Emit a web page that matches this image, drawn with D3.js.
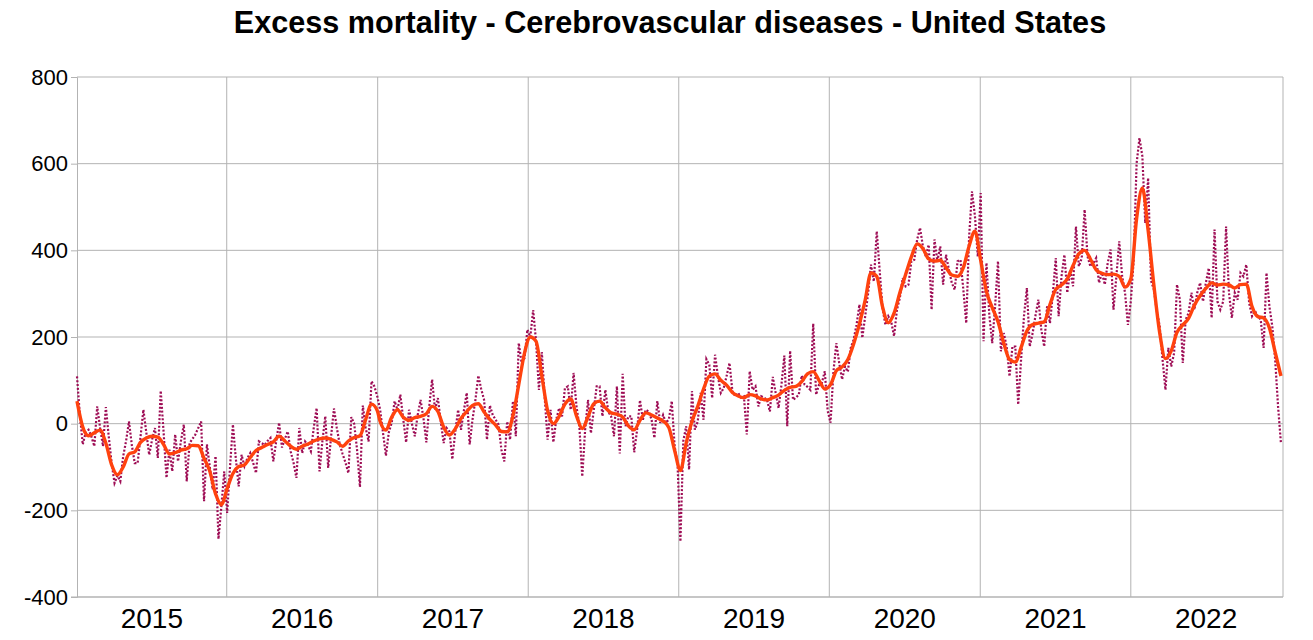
<!DOCTYPE html>
<html>
<head>
<meta charset="utf-8">
<script src="https://cdn.jsdelivr.net/npm/d3@7"></script>
<style>
  body { margin: 0; background: #fff; }
  text { font-family: "Liberation Sans", Arial, sans-serif; }
</style>
</head>
<body>
<svg id="chart" width="1313" height="640"></svg>
<script>
// weekly excess deaths, one array per year (week ending dates, from 2015-01-03)
const w2015 = [109, 20, -48, -20, -14, -30, -52, 40, -10, -52, 38, -30, -91, -137, -120, -133, -75, -40, 5, -50, -91, -91, -30, 32, -20, -72, -37, -10, -79, 76, -20, -125, -60, -110, -25, -87, -40, -2, -133, -45, -35, -25, -10, 5, -179, -48, -100, -152, -75, -266, -191, -110]
const w2016 = [-206, -100, -2, -80, -145, -72, -98, -80, -68, -90, -114, -41, -45, -49, -40, -33, -87, -40, 2, -55, -35, -18, -64, -90, -125, -10, -68, -41, -50, -64, -10, 36, -110, -40, 17, -102, -30, 35, -10, -48, -70, -90, -114, 15, 0, -60, -146, 42, -10, -41, 98, 86, 63]
const w2017 = [32, -22, -74, -20, 2, 52, 32, 67, 10, -43, 32, 0, -29, 20, 55, 13, -43, 40, 102, 32, 59, 5, -45, -10, -18, -82, -20, 32, -14, 30, 71, -48, 10, 55, 111, 80, 55, -37, 42, 20, 9, -2, -60, -87, 5, -37, 52, -29, 186, 140, 151, 217]
const w2018 = [200, 262, 190, 78, 165, 60, -37, 32, -43, 10, 36, 17, 82, 86, 32, 117, 40, -6, -122, -14, 55, -22, 32, 86, 86, 17, 78, 28, 17, -29, 86, -69, 115, -6, 17, 17, -66, -14, 54, 9, 32, 28, 10, -33, 52, 2, 20, 2, 10, 52, -52, -91]
const w2019 = [-272, -40, -6, -106, 75, -14, 5, 71, 9, 149, 136, 59, 159, 109, 71, 82, 110, 140, 75, 63, 71, 60, 63, -25, 121, 78, 86, 40, 63, 60, 55, 28, 108, 71, 36, 90, 157, -6, 168, 55, 60, 67, 111, 90, 85, 78, 231, 67, 90, 94, 121, 30]
const w2020 = [2, 120, 186, 140, 102, 132, 120, 175, 194, 228, 275, 198, 248, 300, 367, 328, 444, 355, 267, 228, 248, 236, 202, 263, 290, 336, 317, 321, 375, 378, 425, 452, 409, 386, 413, 263, 425, 375, 409, 321, 390, 355, 325, 309, 375, 378, 309, 232, 432, 536, 480, 386]
const w2021 = [532, 190, 371, 250, 186, 271, 375, 167, 209, 178, 109, 178, 178, 44, 148, 248, 313, 178, 209, 250, 286, 217, 178, 271, 232, 300, 382, 248, 340, 390, 302, 355, 317, 455, 363, 382, 494, 386, 363, 370, 382, 325, 348, 321, 371, 402, 263, 340, 421, 340, 302, 228]
const w2022 = [282, 378, 600, 659, 617, 463, 567, 330, 309, 260, 225, 148, 78, 175, 132, 163, 321, 286, 140, 240, 255, 302, 263, 302, 325, 282, 325, 359, 244, 448, 282, 263, 282, 455, 302, 244, 302, 286, 348, 340, 367, 278, 248, 260, 248, 240, 175, 348, 271, 225, 148, 40, -45]

// smoothed curve, read every second week of each year
const s2015 = [52, -8, -28, -21, -15, -45, -95, -118, -100, -70, -65, -43, -33, -29, -31, -48, -70, -67, -61, -58, -50, -51, -80, -110, -162, -187]
const s2016 = [-150, -115, -99, -95, -78, -62, -55, -48, -42, -29, -40, -52, -59, -52, -47, -40, -35, -33, -36, -42, -52, -40, -32, -28, 10, 45, 30]
const s2017 = [5, -15, 15, 32, 15, 8, 14, 17, 23, 40, 28, -8, -26, -12, 12, 28, 42, 46, 27, 10, -3, -18, -19, 18, 90, 163]
const s2018 = [200, 190, 110, 30, 0, 17, 45, 57, 18, -11, 16, 46, 52, 37, 25, 22, 15, -5, -14, 8, 25, 20, 13, 6, -9, -62]
const s2019 = [-108, -45, 5, 40, 80, 110, 115, 100, 89, 72, 64, 60, 67, 64, 57, 55, 60, 66, 77, 84, 86, 97, 115, 120, 100, 80]
const s2020 = [90, 122, 131, 148, 184, 230, 285, 348, 340, 270, 233, 255, 302, 344, 385, 415, 404, 380, 375, 377, 360, 343, 340, 360, 410, 444]
const s2021 = [377, 305, 268, 235, 186, 148, 142, 176, 214, 229, 232, 235, 275, 310, 320, 334, 365, 392, 400, 380, 355, 347, 344, 345, 340, 315]
const s2022 = [334, 473, 544, 446, 319, 210, 150, 168, 211, 228, 243, 273, 295, 312, 325, 320, 322, 320, 313, 321, 322, 270, 247, 244, 221, 165, 110]

const years = [2015, 2016, 2017, 2018, 2019, 2020, 2021, 2022]
const yTicks = [-400, -200, 0, 200, 400, 600, 800]
const title = 'Excess mortality - Cerebrovascular diseases - United States'

const weeklyByYear = [w2015, w2016, w2017, w2018, w2019, w2020, w2021, w2022]
const smoothByYear = [s2015, s2016, s2017, s2018, s2019, s2020, s2021, s2022]
const firstWeek = new Date(2015, 0, 3)
const axisEnd = new Date(2023, 0, 5)

// build points: dates step 7 days from first week
let weekly = [], smooth = [], offset = 0
weeklyByYear.forEach((arr, yi) => {
  arr.forEach((v, i) => {
    weekly.push({ date: d3.timeDay.offset(firstWeek, 7 * (offset + i)), v: v })
  })
  smoothByYear[yi].forEach((v, k) => {
    smooth.push({ date: d3.timeDay.offset(firstWeek, 7 * (offset + 2 * k)), v: v })
  })
  offset += arr.length
})

const plotL = 77, plotR = 1283, plotT = 77, plotB = 597
const svg = d3.select('#chart')

const x = d3.scaleTime().domain([firstWeek, axisEnd]).range([plotL, plotR])
const y = d3.scaleLinear().domain([-400, 800]).range([plotB, plotT])

// title
svg.append('text')
  .attr('x', 670).attr('y', 33)
  .attr('text-anchor', 'middle')
  .attr('font-size', 30.6).attr('font-weight', 'bold')
  .text(title)

// horizontal grid
svg.append('g')
  .selectAll('line')
  .data(yTicks)
  .join('line')
  .attr('x1', plotL).attr('x2', plotR)
  .attr('y1', d => y(d)).attr('y2', d => y(d))
  .attr('stroke', '#b3b3b3').attr('stroke-width', 1)

// vertical grid at year boundaries + right edge
const yearLines = years.slice(1).map(yr => x(new Date(yr, 0, 1))).concat([plotR])
svg.append('g')
  .selectAll('line')
  .data(yearLines)
  .join('line')
  .attr('x1', d => d).attr('x2', d => d)
  .attr('y1', plotT).attr('y2', plotB)
  .attr('stroke', '#b3b3b3').attr('stroke-width', 1)

// y axis
const yAxis = svg.append('g')
  .attr('transform', `translate(${plotL},0)`)
  .call(d3.axisLeft(y).tickValues(yTicks).tickSize(6).tickPadding(3).tickFormat(d3.format('d')))
yAxis.select('.domain').attr('stroke', '#b3b3b3')
yAxis.selectAll('.tick line').attr('stroke', '#b3b3b3')
yAxis.selectAll('.tick text')
  .attr('font-size', 22).attr('fill', '#000')
  .attr('font-family', '"Liberation Sans", Arial, sans-serif')
  .text(d => d < 0 ? '-' + Math.abs(d) : d)

// x axis baseline
svg.append('line')
  .attr('x1', plotL - 6).attr('x2', plotR)
  .attr('y1', plotB).attr('y2', plotB)
  .attr('stroke', '#b3b3b3')

// year labels centered in their band
svg.append('g')
  .selectAll('text')
  .data(years)
  .join('text')
  .attr('x', yr => {
    const a = Math.max(plotL, x(new Date(yr, 0, 1)))
    const b = Math.min(plotR, x(new Date(yr + 1, 0, 1)))
    return (a + b) / 2
  })
  .attr('y', 628)
  .attr('text-anchor', 'middle')
  .attr('font-size', 28)
  .text(yr => yr)

// weekly series, dotted
const line = d3.line().x(d => x(d.date)).y(d => y(d.v))
svg.append('path')
  .datum(weekly)
  .attr('d', line)
  .attr('fill', 'none')
  .attr('stroke', '#9e0d55')
  .attr('stroke-width', 2.2)
  .attr('stroke-dasharray', '2,1.8')

// smoothed series
svg.append('path')
  .datum(smooth)
  .attr('d', line.curve(d3.curveMonotoneX))
  .attr('fill', 'none')
  .attr('stroke', '#ff420e')
  .attr('stroke-width', 3.4)
  .attr('stroke-linejoin', 'round')
</script>
</body>
</html>
